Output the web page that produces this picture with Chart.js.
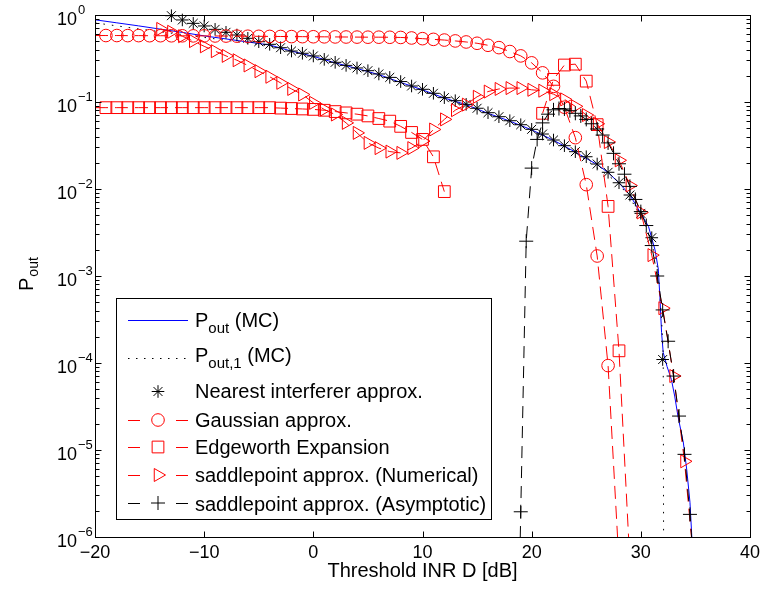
<!DOCTYPE html>
<html>
<head>
<meta charset="utf-8">
<script src="https://cdn.jsdelivr.net/npm/chart.js@4.4.0/dist/chart.umd.min.js"></script>
<style>
  html, body { margin: 0; padding: 0; background: #fff; }
</style>
</head>
<body>
<canvas id="chart" width="762" height="593"></canvas>
<script>
// values as log10(P)
const blueX = [-20, -18, -16, -14, -12, -10, -8, -6, -4, -2, 0, 2, 4, 6, 8, 10, 12, 14, 16, 18, 20, 22, 24, 26, 27, 28, 29, 30, 30.7, 31.3, 31.6, 31.75, 31.9, 32.05, 32.4, 32.8, 33.1, 33.4, 33.9, 34.2, 34.5, 34.65, 34.7];
const blueLog = [-0.055, -0.09, -0.125, -0.163, -0.2, -0.24, -0.275, -0.31, -0.345, -0.415, -0.475, -0.55, -0.615, -0.685, -0.775, -0.86, -0.955, -1.03, -1.13, -1.22, -1.32, -1.44, -1.575, -1.72, -1.81, -1.93, -2.07, -2.28, -2.43, -2.7, -2.92, -3.25, -3.65, -3.88, -4.04, -4.19, -4.38, -4.61, -4.92, -5.22, -5.6, -5.95, -6.1];

const dotX = [-20, -16, -12, -8, -4, -2, 0, 4, 8, 12, 16, 20, 24, 28, 30, 31, 31.6, 31.9, 32.05, 32.1];
const dotLog = [-0.09, -0.16, -0.225, -0.29, -0.355, -0.42, -0.48, -0.62, -0.78, -0.96, -1.135, -1.325, -1.58, -1.935, -2.29, -2.62, -2.95, -3.5, -3.9, -7];

const starX = [-13, -12, -11, -10, -9, -8, -7, -6, -5, -4, -3, -2, -1, 0, 1, 2, 3, 4, 5, 6, 7, 8, 9, 10, 11, 12, 13, 14, 15, 16, 17, 18, 19, 20, 21, 22, 23, 24, 25, 26, 27, 28, 29, 30, 31, 32];
const starLog = [-0.008, -0.057, -0.096, -0.126, -0.165, -0.199, -0.23, -0.268, -0.307, -0.337, -0.376, -0.414, -0.44, -0.471, -0.51, -0.544, -0.579, -0.609, -0.64, -0.678, -0.717, -0.765, -0.816, -0.854, -0.9, -0.95, -0.985, -1.027, -1.072, -1.123, -1.169, -1.215, -1.261, -1.314, -1.368, -1.437, -1.502, -1.571, -1.629, -1.713, -1.808, -1.928, -2.069, -2.28, -2.56, -3.96];

const gaussX = [-20, -19, -18, -17, -16, -15, -14, -13, -12, -11, -10, -9, -8, -7, -6, -5, -4, -3, -2, -1, 0, 1, 2, 3, 4, 5, 6, 7, 8, 9, 10, 11, 12, 13, 14, 15, 16, 17, 18, 19, 20, 21, 22, 23, 24, 25, 26, 27, 28];
const gaussLog = [-0.236, -0.236, -0.236, -0.237, -0.237, -0.238, -0.238, -0.239, -0.239, -0.24, -0.24, -0.241, -0.242, -0.243, -0.244, -0.245, -0.246, -0.247, -0.248, -0.249, -0.25, -0.251, -0.252, -0.253, -0.254, -0.255, -0.255, -0.256, -0.258, -0.264, -0.272, -0.28, -0.288, -0.298, -0.31, -0.325, -0.348, -0.375, -0.42, -0.47, -0.55, -0.665, -0.82, -1.06, -1.41, -1.95, -2.77, -4.03, -6.3];

const edgeX = [-20, -19, -18, -17, -16, -15, -14, -13, -12, -11, -10, -9, -8, -7, -6, -5, -4, -3, -2, -1, 0, 1, 2, 3, 4, 5, 6, 7, 8, 9, 10, 11, 12, 13, 14, 15, 16, 17, 18, 19, 20, 21, 22, 23, 24, 25, 26, 27, 28, 29];
const edgeLog = [-1.065, -1.065, -1.065, -1.065, -1.065, -1.065, -1.065, -1.065, -1.065, -1.065, -1.065, -1.065, -1.065, -1.065, -1.065, -1.065, -1.065, -1.07, -1.075, -1.08, -1.085, -1.095, -1.11, -1.125, -1.14, -1.16, -1.19, -1.22, -1.28, -1.35, -1.43, -1.63, -2.03, null, null, null, null, null, null, null, null, -1.13, -0.74, -0.575, -0.565, -0.76, -1.26, -2.2, -3.86, -6.3];

const saddleX = [-14, -13, -12, -11, -10, -9, -8, -7, -6, -5, -4, -3, -2, -1, 0, 1, 2, 3, 4, 5, 6, 7, 8, 9, 10, 11, 12, 13, 14, 15, 16, 17, 18, 19, 20, 21, 22, 23, 24, 25, 26, 27, 28, 29, 30, 31, 32, 33, 34, 35];
const saddleLog = [-0.16, -0.193, -0.244, -0.3, -0.36, -0.416, -0.47, -0.52, -0.58, -0.646, -0.71, -0.78, -0.85, -0.914, -1.01, -1.086, -1.144, -1.24, -1.355, -1.47, -1.53, -1.57, -1.585, -1.53, -1.45, -1.316, -1.2, -1.094, -1.03, -0.94, -0.88, -0.85, -0.84, -0.84, -0.86, -0.87, -0.91, -0.97, -1.05, -1.15, -1.25, -1.46, -1.67, -1.96, -2.27, -2.76, -3.37, -4.15, -5.13, -6.5];

const asymX = [18.5, 19, 19.5, 20, 20.5, 21, 21.5, 22, 22.5, 23, 23.5, 24, 24.5, 25, 25.5, 26, 26.5, 27, 27.5, 28, 28.5, 29, 29.5, 30, 30.5, 31, 31.5, 32, 32.5, 33, 33.5, 34, 34.5, 35];
const asymLog = [-9, -5.71, -2.6, -1.76, -1.43, -1.24, -1.14, -1.09, -1.075, -1.08, -1.1, -1.13, -1.16, -1.2, -1.25, -1.31, -1.38, -1.47, -1.59, -1.71, -1.83, -1.97, -2.12, -2.26, -2.42, -2.65, -3.0, -3.39, -3.75, -4.15, -4.61, -5.05, -5.74, -6.6];

const xTicks = [-20, -10, 0, 10, 20, 30, 40];
const xTickLabels = ["\u221220", "\u221210", "0", "10", "20", "30", "40"];
const yDecades = [0, -1, -2, -3, -4, -5, -6];
const yTickExps = ["0", "\u22121", "\u22122", "\u22123", "\u22124", "\u22125", "\u22126"];

const FONT = '"Liberation Sans", Arial, Helvetica, sans-serif';
const RED = "#ff0000";
const BLUE = "#0000ff";

// marker sizes (chart.js radius)
const R_CIRCLE = 6.3;
const R_RECT = 8.3;
const R_TRI = 7.5;
const R_STAR = 6.3;
const R_CROSS = 7;

function toPoints(xs, logs) {
  return xs.map((x, i) => ({ x: x, y: logs[i] === null ? null : Math.pow(10, logs[i]) }));
}

function drawMarker(ctx, style, cx, cy, r, color) {
  ctx.save();
  ctx.strokeStyle = color;
  ctx.lineWidth = 1;
  ctx.setLineDash([]);
  ctx.beginPath();
  if (style === "circle") {
    ctx.arc(cx, cy, r, 0, Math.PI * 2);
  } else if (style === "rect") {
    const h = r * Math.SQRT1_2;
    ctx.rect(cx - h, cy - h, 2 * h, 2 * h);
  } else if (style === "triangle") {
    for (let k = 0; k < 3; k++) {
      const a = Math.PI / 2 + k * 2 * Math.PI / 3;
      const px = cx + Math.sin(a) * r;
      const py = cy - Math.cos(a) * r;
      if (k === 0) ctx.moveTo(px, py); else ctx.lineTo(px, py);
    }
    ctx.closePath();
  } else if (style === "star") {
    for (let k = 0; k < 4; k++) {
      const a = k * Math.PI / 4;
      ctx.moveTo(cx - Math.cos(a) * r, cy - Math.sin(a) * r);
      ctx.lineTo(cx + Math.cos(a) * r, cy + Math.sin(a) * r);
    }
  } else if (style === "cross") {
    ctx.moveTo(cx - r, cy); ctx.lineTo(cx + r, cy);
    ctx.moveTo(cx, cy - r); ctx.lineTo(cx, cy + r);
  }
  ctx.stroke();
  ctx.restore();
}

const legendRows = [
  { parts: [["P"], ["out", 1], [" (MC)"]], base: 326.5, my: 320, line: "solid", color: BLUE },
  { parts: [["P"], ["out,1", 1], [" (MC)"]], base: 361.5, my: 358, line: "dot", color: "#000" },
  { parts: [["Nearest interferer approx."]], base: 398, my: 391.5, marker: "star", r: R_STAR, color: "#000" },
  { parts: [["Gaussian approx."]], base: 426.5, my: 420, line: "dash", marker: "circle", r: R_CIRCLE, color: RED },
  { parts: [["Edgeworth Expansion"]], base: 454, my: 447, line: "dash", marker: "rect", r: R_RECT, color: RED },
  { parts: [["saddlepoint approx. (Numerical)"]], base: 482, my: 475, line: "dash", marker: "triangle", r: R_TRI, color: RED },
  { parts: [["saddlepoint approx. (Asymptotic)"]], base: 510.5, my: 503, line: "dash", marker: "cross", r: R_CROSS, color: "#000" },
];

const framePlugin = {
  id: "matlabFrame",
  afterDatasetsDraw(chart) {
    const { ctx, chartArea: a, scales } = chart;
    const xs = scales.x, ys = scales.y;
    const L = Math.round(a.left) + 0.5, R = Math.round(a.right) + 0.5;
    const T = Math.round(a.top) + 0.5, B = Math.round(a.bottom) + 0.5;
    ctx.save();
    ctx.strokeStyle = "#000";
    ctx.lineWidth = 1;
    ctx.setLineDash([]);
    ctx.strokeRect(L, T, R - L, B - T);

    ctx.beginPath();
    xTicks.forEach((v) => {
      const px = Math.round(xs.getPixelForValue(v)) + 0.5;
      ctx.moveTo(px, B); ctx.lineTo(px, B - 6);
      ctx.moveTo(px, T); ctx.lineTo(px, T + 6);
    });
    yDecades.forEach((e) => {
      const py = Math.round(ys.getPixelForValue(Math.pow(10, e))) + 0.5;
      ctx.moveTo(L, py); ctx.lineTo(L + 6, py);
      ctx.moveTo(R, py); ctx.lineTo(R - 6, py);
      if (e < 0) {
        for (let m = 2; m <= 9; m++) {
          const q = Math.round(ys.getPixelForValue(m * Math.pow(10, e))) + 0.5;
          ctx.moveTo(L, q); ctx.lineTo(L + 4, q);
          ctx.moveTo(R, q); ctx.lineTo(R - 4, q);
        }
      }
    });
    ctx.stroke();

    ctx.fillStyle = "#000";
    ctx.font = "18px " + FONT;
    ctx.textAlign = "center";
    ctx.textBaseline = "alphabetic";
    xTicks.forEach((v, i) => {
      ctx.fillText(xTickLabels[i], xs.getPixelForValue(v), 558);
    });
    yDecades.forEach((e, i) => {
      const py = ys.getPixelForValue(Math.pow(10, e));
      ctx.font = "18px " + FONT;
      ctx.textAlign = "right";
      ctx.fillText("10", 77, py + 9.5);
      ctx.font = "13px " + FONT;
      ctx.textAlign = "left";
      ctx.fillText(yTickExps[i], 78, py - 1);
    });

    ctx.font = "20px " + FONT;
    ctx.textAlign = "center";
    ctx.fillText("Threshold INR D [dB]", (a.left + a.right) / 2, 577);

    ctx.save();
    ctx.translate(33, 291);
    ctx.rotate(-Math.PI / 2);
    ctx.textAlign = "left";
    ctx.font = "20px " + FONT;
    ctx.fillText("P", 0, 0);
    const pw = ctx.measureText("P").width;
    ctx.font = "14px " + FONT;
    ctx.fillText("out", pw + 1, 5);
    ctx.restore();

    // legend box
    ctx.fillStyle = "#fff";
    ctx.fillRect(116, 298, 376, 222);
    ctx.strokeRect(116.5, 298.5, 375, 221);
    legendRows.forEach((row) => {
      ctx.save();
      ctx.strokeStyle = row.color;
      ctx.lineWidth = 1;
      ctx.beginPath();
      if (row.line === "solid") {
        ctx.moveTo(128, row.my + 0.5); ctx.lineTo(188, row.my + 0.5);
      } else if (row.line === "dot") {
        ctx.setLineDash([1.5, 6.5]);
        ctx.moveTo(128, row.my + 0.5); ctx.lineTo(188, row.my + 0.5);
      } else if (row.line === "dash") {
        ctx.moveTo(128, row.my + 0.5); ctx.lineTo(140, row.my + 0.5);
        ctx.moveTo(176, row.my + 0.5); ctx.lineTo(188, row.my + 0.5);
      }
      ctx.stroke();
      ctx.restore();
      if (row.marker) drawMarker(ctx, row.marker, 158, row.my, row.r, row.color);
      let tx = 195;
      ctx.fillStyle = "#000";
      ctx.textAlign = "left";
      row.parts.forEach(([t, sub]) => {
        ctx.font = (sub ? "15px " : "20px ") + FONT;
        ctx.fillText(t, tx, row.base + (sub ? 6.5 : 0));
        tx += ctx.measureText(t).width;
      });
    });
    ctx.restore();
  },
};

const edgeClip = { left: 0, top: 8, right: 0, bottom: 0 };

new Chart(document.getElementById("chart"), {
  type: "line",
  data: {
    datasets: [
      {
        label: "Pout (MC)",
        data: toPoints(blueX, blueLog),
        borderColor: BLUE, borderWidth: 1, pointRadius: 0, order: 7, clip: edgeClip,
      },
      {
        label: "Pout,1 (MC)",
        data: toPoints(dotX, dotLog),
        borderColor: "#000", borderWidth: 1, borderDash: [1.5, 7], pointRadius: 0, order: 6, clip: edgeClip,
      },
      {
        label: "Nearest interferer approx.",
        data: toPoints(starX, starLog),
        showLine: false, pointStyle: "star", pointRadius: R_STAR, pointBorderColor: "#000",
        pointBorderWidth: 1, pointBackgroundColor: "transparent", order: 5, clip: edgeClip,
      },
      {
        label: "Gaussian approx.",
        data: toPoints(gaussX, gaussLog),
        borderColor: RED, borderWidth: 1, borderDash: [13, 7], pointStyle: "circle",
        pointRadius: (c) => (c.dataIndex === 0 ? 0 : R_CIRCLE),
        pointBorderColor: RED, pointBorderWidth: 1, pointBackgroundColor: "transparent", order: 4, clip: edgeClip,
      },
      {
        label: "Edgeworth Expansion",
        data: toPoints(edgeX, edgeLog),
        borderColor: RED, borderWidth: 1, borderDash: [13, 7], pointStyle: "rect", spanGaps: false,
        pointRadius: (c) => (c.dataIndex === 0 ? 0 : R_RECT),
        pointBorderColor: RED, pointBorderWidth: 1, pointBackgroundColor: "transparent", order: 3, clip: edgeClip,
      },
      {
        label: "saddlepoint approx. (Numerical)",
        data: toPoints(saddleX, saddleLog),
        borderColor: RED, borderWidth: 1, borderDash: [13, 7], pointStyle: "triangle", pointRotation: 90,
        pointRadius: R_TRI, pointBorderColor: RED, pointBorderWidth: 1, pointBackgroundColor: "transparent", order: 2, clip: edgeClip,
      },
      {
        label: "saddlepoint approx. (Asymptotic)",
        data: toPoints(asymX, asymLog),
        borderColor: "#000", borderWidth: 1, borderDash: [12, 8], pointStyle: "cross",
        pointRadius: R_CROSS, pointBorderColor: "#000", pointBorderWidth: 1, pointBackgroundColor: "transparent", order: 1, clip: edgeClip,
      },
    ],
  },
  options: {
    responsive: false,
    animation: false,
    layout: { padding: { top: 15, right: 12, left: 0, bottom: 0 } },
    elements: { line: { tension: 0, fill: false } },
    plugins: { legend: { display: false }, tooltip: { enabled: false } },
    scales: {
      x: {
        type: "linear", min: -20, max: 40,
        grid: { display: false }, border: { display: false }, ticks: { display: false },
        afterFit: (s) => { s.height = 56; },
      },
      y: {
        type: "logarithmic", min: 1e-6, max: 1,
        grid: { display: false }, border: { display: false }, ticks: { display: false },
        afterFit: (s) => { s.width = 95; },
      },
    },
  },
  plugins: [framePlugin],
});
</script>
</body>
</html>
